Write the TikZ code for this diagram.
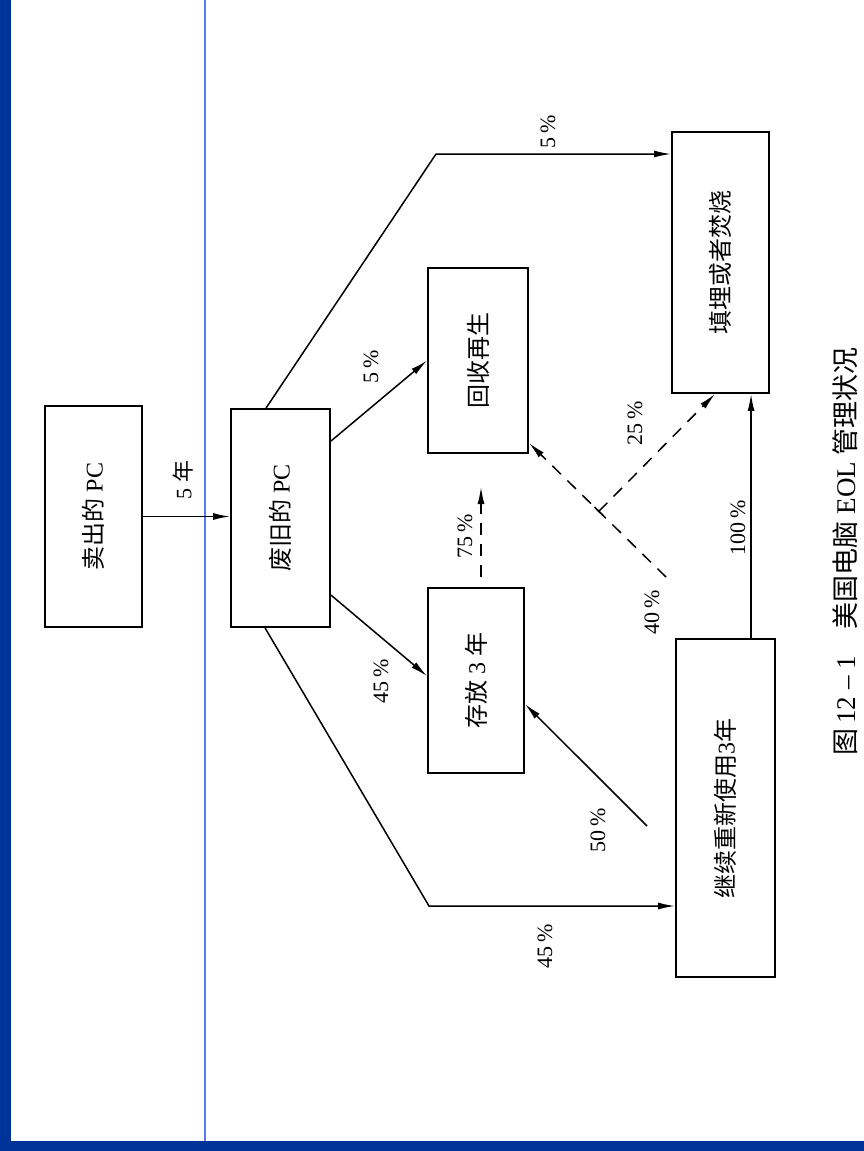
\documentclass[tikz,border=0pt]{standalone}
\usepackage{fontspec}
\usepackage{graphicx}
\setmainfont{Liberation Serif}
\newfontfamily\cjk{Noto Sans CJK SC}
\usetikzlibrary{arrows.meta,calc}
\definecolor{frameblue}{RGB}{0,51,153}
\definecolor{lineblue}{RGB}{90,120,235}
\begin{document}
\begin{tikzpicture}[x=1pt,y=-1pt,
  box/.style={draw, line width=1.9pt, inner sep=0pt, font=\fontsize{24}{24}\selectfont},
  conn/.style={line width=1.5pt, -{Latex[length=17pt,width=7pt]}},
  dconn/.style={conn, dash pattern=on 12pt off 9pt},
  lbl/.style={rotate=90, font=\fontsize{22}{22}\selectfont, inner sep=0pt},
  captext/.style={rotate=90, font=\fontsize{27}{27}\selectfont, inner sep=0pt}
]
\useasboundingbox (0,0) rectangle (864,1151);
\fill[white] (0,0) rectangle (864,1151);
% frame
\fill[frameblue] (0,0) rectangle (11,1151);
\fill[frameblue] (0,1141) rectangle (864,1151);
\draw[lineblue, line width=1.4pt] (205,0) -- (205,1141);

% boxes
\node[box, minimum width=97pt, minimum height=221pt] (a) at (93.5,516.5) {\rotatebox{90}{{\cjk 卖出的} PC}};
\node[box, minimum width=99pt, minimum height=218pt] (b) at (280.5,518) {\rotatebox{90}{{\cjk 废旧的} PC}};
\node[box, minimum width=100pt, minimum height=185pt] (r) at (478,360.5) {\rotatebox{90}{\cjk 回收再生}};
\node[box, minimum width=96pt, minimum height=185pt] (s) at (476,680.5) {\rotatebox{90}{{\cjk 存放} 3 {\cjk 年}}};
\node[box, minimum width=97pt, minimum height=261pt] (f) at (720.5,262.5) {\rotatebox{90}{\cjk 填埋或者焚烧}};
\node[box, minimum width=99pt, minimum height=338pt] (g) at (725.5,808) {\rotatebox{90}{{\cjk 继续重新使用}3{\cjk 年}}};

% connectors
\coordinate (c1) at (436,154);
\coordinate (c2) at (429,906);
\draw[conn] (a.east) -- (a.east -| b.west);
\draw[conn] ($(b.north west)+(36,0)$) -- (c1) -- (c1 -| f.west);
\draw[conn] ($(b.north east)+(0,33)$) -- (r.west);
\draw[conn] ($(b.north east)+(0,187)$) -- ($(s.north west)+(0,89)$);
\draw[conn] ($(b.south west)+(35,0)$) -- (c2) -- (c2 -| g.west);
\coordinate (d1) at (481,577);
\coordinate (d2) at (481,487);
\draw[dconn] (d1) -- (d2);
\coordinate (e1) at (666,577);
\coordinate (e2) at ($(r.south east)+(0,-11)$);
\draw[dconn] (e1) -- (e2);
\coordinate (j) at ($(e1)!0.49!(e2)$);
\draw[line width=1.5pt] ($(j)!6pt!(e1)$) -- ($(j)!6pt!(e2)$);
\draw[dconn] (j) -- ($(f.south west)+(44,0)$);
\coordinate (g1) at ($(g.north west)+(76,0)$);
\draw[conn] (g1) -- (g1 |- f.south);
\coordinate (h1) at (647,826);
\draw[conn] (h1) -- ($(s.north east)+(0,117)$);

% labels
\node[lbl] (l5y) at (183,480) {5 {\cjk 年}};
\node[lbl] (l5a) at (548,132) {5\,\%};
\node[lbl] (l5b) at (371,367) {5\,\%};
\node[lbl] (l45a) at (381,681) {45\,\%};
\node[lbl] (l45b) at (545,946) {45\,\%};
\node[lbl] (l75) at (465,536) {75\,\%};
\node[lbl] (l40) at (652,612) {40\,\%};
\node[lbl] (l25) at (635,423) {25\,\%};
\node[lbl] (l100) at (738,528) {100\,\%};
\node[lbl] (l50) at (598,830) {50\,\%};

% caption
\node[captext] (caption) at (845,551) {{\cjk 图}\,12 – 1\hspace{27pt}{\cjk 美国电脑} EOL {\cjk 管理状况}};
\end{tikzpicture}
\end{document}
